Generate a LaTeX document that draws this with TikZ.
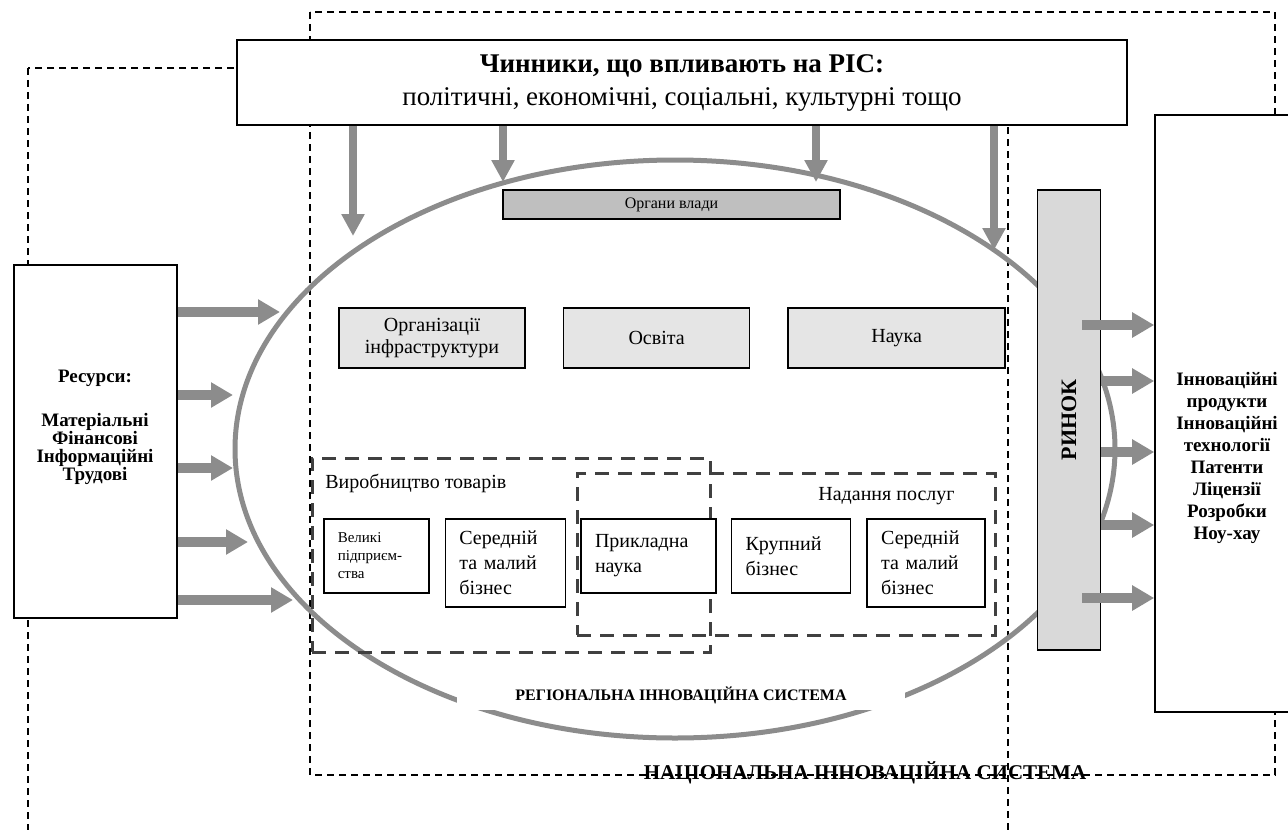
\documentclass[tikz,border=0pt]{standalone}
\usepackage{fontspec}
\setmainfont{Liberation Serif}
\usepackage{graphicx}
\usetikzlibrary{arrows.meta, positioning, shapes.geometric}
\newcommand{\boxline}{0.8pt}
\newcommand{\firmheight}{37pt}
\tikzstyle{plain} = [% white box with a thin frame
  rectangle,
  draw=black,
  line width=\boxline,
  fill=white,
  align=center
  ]
\tikzstyle{shaded} = [% grey box inside the regional system
  plain,
  fill=black!10
  ]
\tikzstyle{firm} = [% small box of a sector
  plain,
  align=left,
  inner xsep=7pt,
  inner ysep=2pt,
  minimum height=\firmheight,
  font=\fontsize{10}{12.5}\selectfont
  ]
\tikzstyle{sector} = [% thick dashed frame of a sector
  rectangle,
  draw=black!75,
  line width=1.5pt,
  dash pattern=on 7pt off 4.5pt
  ]
\tikzstyle{border} = [% thin dashed frame of a system
  draw=black,
  line width=0.7pt,
  dash pattern=on 3.5pt off 2.5pt
  ]
\tikzstyle{feed} = [% thick shaded arrow
  draw=black!45,
  line width=5pt,
  -{Triangle[width=12pt,length=11pt]}
  ]
\tikzstyle{drop} = [% thinner shaded arrow from the factors
  feed,
  line width=4pt,
  -{Triangle[width=11pt,length=11pt]}
  ]

\begin{document}
\begin{tikzpicture}[x=0.5pt, y=-0.5pt, node distance=7pt]
\useasboundingbox (0,0) rectangle (1288,829);

%%% Frames
\draw[border] (28,68) rectangle (1008,835);
\draw[border] (310,12) rectangle (1275,775);

%%% Regional system
\node[ellipse, draw=black!45, line width=2.5pt, inner sep=0pt,
  minimum width=440pt, minimum height=289pt] (ris) at (675,449) {};
\node[fill=white, minimum width=224pt, minimum height=14.5pt,
  font=\bfseries\fontsize{8}{9}\selectfont] (rislabel) at (681,695)
  {РЕГІОНАЛЬНА ІННОВАЦІЙНА СИСТЕМА};
\node[font=\bfseries\fontsize{10.5}{12}\selectfont] (nislabel) at (865,773)
  {НАЦІОНАЛЬНА ІННОВАЦІЙНА СИСТЕМА};

%%% Nodes
\node[plain, minimum width=445pt, minimum height=42.5pt,
  font=\fontsize{13.5}{16.5}\selectfont] (factors) at (682,82.5)
  {\textbf{Чинники, що впливають на РІС:}\\політичні, економічні, соціальні, культурні тощо};

\node[plain, minimum width=81.5pt, minimum height=176.5pt] (resources) at (95.5,441.5) {};
\node[font=\bfseries\fontsize{9.5}{9}\selectfont, align=center] (restext) at (95,427)
  {Ресурси:\\[13pt]Матеріальні\\Фінансові\\Інформаційні\\Трудові};

\node[plain, minimum width=70pt, minimum height=298.5pt] (results) at (1225,413.5) {};
\node[font=\bfseries\fontsize{9.5}{11}\selectfont, align=center] (restext2) at (1227,458)
  {Інноваційні\\продукти\\Інноваційні\\технології\\Патенти\\Ліцензії\\Розробки\\Ноу-хау};

\node[plain, fill=black!15, minimum width=31.5pt, minimum height=230pt,
  font=\bfseries\fontsize{11}{11}\selectfont] (market) at (1069,420)
  {\rotatebox{90}{РИНОК}};

\node[plain, fill=black!25, minimum width=168.5pt, minimum height=14.5pt, inner sep=0pt,
  font=\fontsize{8}{8}\selectfont] (power) at (671.5,204.5) {Органи влади};

\node[shaded, minimum width=93pt, minimum height=30pt,
  font=\fontsize{10}{11}\selectfont] (infra) at (432,338) {Організації\\інфраструктури};
\node[shaded, minimum width=93pt, minimum height=30pt,
  font=\fontsize{10}{11}\selectfont] (edu) [right=18.5pt of infra] {Освіта};
\node[shaded, minimum width=108.5pt, minimum height=30pt,
  font=\fontsize{10}{11}\selectfont] (sci) [right=18.5pt of edu] {Наука};

\node[sector, minimum width=199pt, minimum height=97pt] (goods) at (511,555) {};
\node[sector, minimum width=209pt, minimum height=81pt] (services) at (786,554) {};
\node[inner sep=0pt, anchor=west, font=\fontsize{10}{11}\selectfont] (goodslabel) at (325,483)
  {Виробництво товарів};
\node[inner sep=0pt, anchor=east, font=\fontsize{10}{11}\selectfont] (servlabel) at (955,496)
  {Надання послуг};

\node[firm, anchor=north west, text width=38.5pt, font=\fontsize{7.5}{9}\selectfont]
  (bigent) at (323,518) {Великі\\підприєм-\\ства};
\node[firm, right=7.5pt of bigent.north east, anchor=north west, text width=46pt,
  minimum height=44pt] (smbgoods) {Середній\\та малий\\бізнес};
\node[firm, right=of smbgoods.north east, anchor=north west, text width=53.5pt]
  (applsci) {Прикладна\\наука};
\node[firm, right=of applsci.north east, anchor=north west, text width=45.5pt]
  (bigbiz) {Крупний\\бізнес};
\node[firm, right=7.5pt of bigbiz.north east, anchor=north west, text width=45pt,
  minimum height=44pt] (smbserv) {Середній\\та малий\\бізнес};

%%% Arrows
\coordinate (t1) at (353,236);
\coordinate (t2) at (503,182);
\coordinate (t3) at (816,182);
\coordinate (t4) at (994,250);
\draw[drop] (factors.south -| t1) -- (t1);
\draw[drop] (factors.south -| t2) -- (t2);
\draw[drop] (factors.south -| t3) -- (t3);
\draw[drop] (factors.south -| t4) -- (t4);

\coordinate (l1) at (280,312);
\coordinate (l2) at (233,395);
\coordinate (l3) at (233,468);
\coordinate (l4) at (248,542);
\coordinate (l5) at (293,600);
\draw[feed] (resources.east |- l1) -- (l1);
\draw[feed] (resources.east |- l2) -- (l2);
\draw[feed] (resources.east |- l3) -- (l3);
\draw[feed] (resources.east |- l4) -- (l4);
\draw[feed] (resources.east |- l5) -- (l5);

\coordinate (o1) at (1082,325);
\coordinate (o5) at (1082,598);
\draw[feed] (o1) -- (results.west |- o1);
\draw[feed] (market.east |- 0,381) -- (results.west |- 0,381);
\draw[feed] (market.east |- 0,452) -- (results.west |- 0,452);
\draw[feed] (market.east |- 0,525) -- (results.west |- 0,525);
\draw[feed] (o5) -- (results.west |- o5);

\end{tikzpicture}
\end{document}
